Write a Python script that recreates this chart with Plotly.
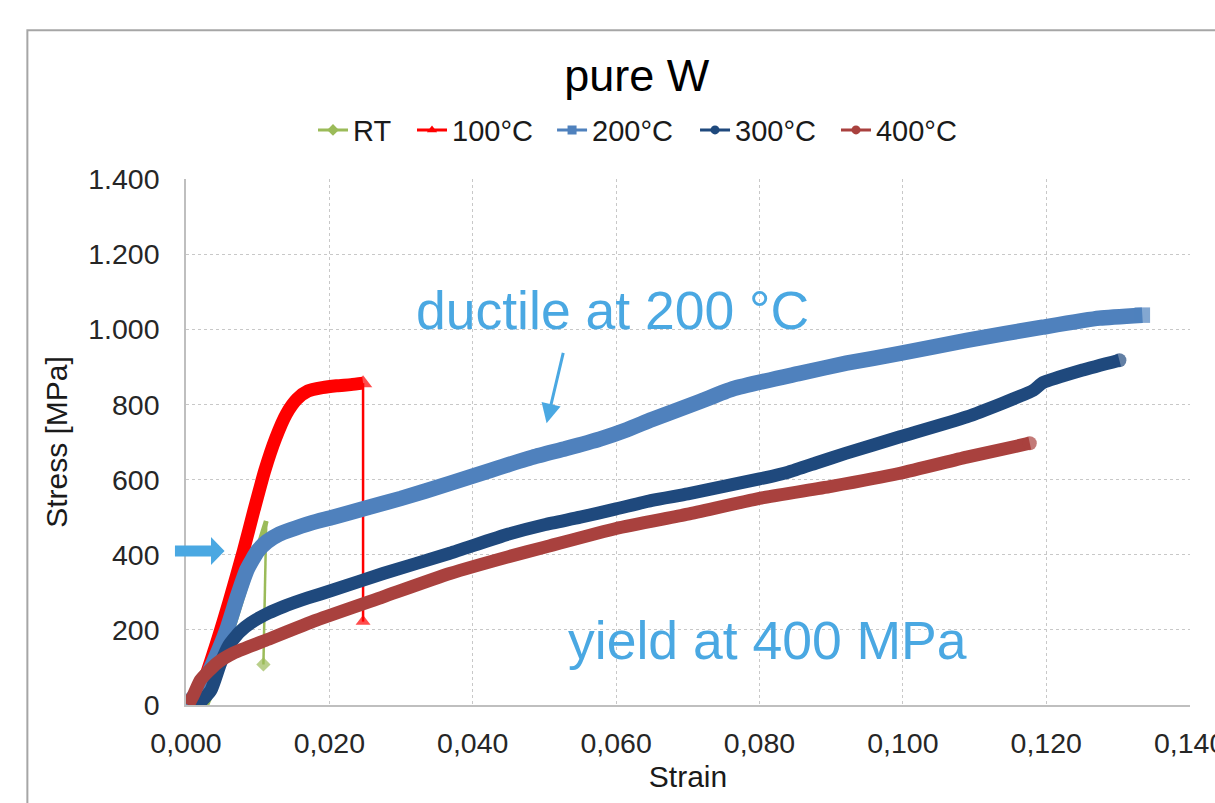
import plotly.graph_objects as go

# ---------------- data ----------------
series_names = ["RT", "100°C", "200°C", "300°C", "400°C"]

strain_rt = [0.0000, 0.0015, 0.0030, 0.0040, 0.0055, 0.0070, 0.0085, 0.0100, 0.0112]
stress_rt = [0, 0, 5, 50, 140, 235, 330, 420, 490]
strain_rt_drop = [0.0112, 0.0108]
stress_rt_drop = [490, 108]

strain_100 = [0.0005, 0.0020, 0.0040, 0.0060, 0.0080, 0.0095, 0.0110, 0.0125, 0.0140,
              0.0155, 0.0170, 0.0190, 0.0210, 0.0230, 0.0247]
stress_100 = [0, 40, 150, 275, 410, 520, 625, 710, 775, 815, 836, 845, 850, 853, 857]
strain_100_drop = [0.0247, 0.0247]
stress_100_drop = [857, 222]

strain_200 = [0.0000, 0.0020, 0.0040, 0.0057, 0.0072, 0.0085, 0.0100, 0.0113, 0.0130,
              0.0145, 0.0175, 0.0205, 0.0250, 0.0300, 0.0368, 0.0425, 0.0484, 0.0530,
              0.0577, 0.0615, 0.0650, 0.0717, 0.0763, 0.0856, 0.0921, 0.0996, 0.1089,
              0.1195, 0.1274, 0.1334]
stress_200 = [0, 40, 120, 200, 290, 360, 410, 435, 455, 466, 485, 500, 524, 550, 590, 625,
              660, 683, 708, 733, 760, 808, 842, 883, 910, 936, 971, 1006, 1030, 1038]

strain_300 = [0.0003, 0.0020, 0.0035, 0.0048, 0.0060, 0.0075, 0.0090, 0.0115, 0.0136,
              0.0170, 0.0205, 0.0275, 0.0368, 0.0450, 0.0500, 0.0550, 0.0600, 0.0650,
              0.0700, 0.0750, 0.0800, 0.0840, 0.0880, 0.0920, 0.0996, 0.1089, 0.1182,
              0.1195, 0.1251, 0.1302]
stress_300 = [0, 8, 40, 110, 160, 195, 218, 245, 262, 285, 306, 350, 404, 455, 480, 500,
              522, 545, 562, 582, 602, 620, 645, 670, 714, 767, 838, 858, 892, 918]

strain_400 = [0.0003, 0.0010, 0.0020, 0.0043, 0.0066, 0.0112, 0.0182, 0.0275, 0.0368,
              0.0450, 0.0500, 0.0600, 0.0700, 0.0800, 0.0900, 0.0996, 0.1089, 0.1177]
stress_400 = [0, 25, 66, 111, 138, 173, 226, 288, 350, 395, 420, 470, 508, 550, 582, 617,
              660, 697]

x_ticks = [0.0, 0.02, 0.04, 0.06, 0.08, 0.10, 0.12, 0.14]
y_ticks = [0, 200, 400, 600, 800, 1000, 1200, 1400]

# ---------------- style ----------------
FONT = "Liberation Sans, Arial, Helvetica, sans-serif"
c_rt, c_100, c_200, c_300, c_400 = "#9BBB59", "#FF0000", "#4F81BD", "#1F497D", "#A9413E"
c_anno = "#4AA8E2"

fig = go.Figure()

# RT
fig.add_trace(go.Scatter(x=strain_rt, y=stress_rt, mode="lines",
                         line=dict(color=c_rt, width=5), showlegend=False))
fig.add_trace(go.Scatter(x=strain_rt_drop, y=stress_rt_drop, mode="lines+markers",
                         line=dict(color=c_rt, width=2.5),
                         marker=dict(symbol="diamond", size=[0, 11], color=c_rt,
                                     line=dict(width=0)),
                         showlegend=False))
# 100 °C
fig.add_trace(go.Scatter(x=strain_100, y=stress_100, mode="lines", line_shape="spline",
                         line=dict(color=c_100, width=13, smoothing=0.6), showlegend=False))
fig.add_trace(go.Scatter(x=strain_100_drop, y=stress_100_drop, mode="lines+markers",
                         line=dict(color=c_100, width=2.5),
                         marker=dict(symbol="triangle-up", size=[16, 13], color=c_100,
                                     line=dict(width=0)),
                         showlegend=False))
# 200 °C
n200 = len(strain_200)
fig.add_trace(go.Scatter(x=strain_200, y=stress_200, mode="lines+markers", line_shape="spline",
                         line=dict(color=c_200, width=15.5, smoothing=0.5),
                         marker=dict(symbol="square", color=c_200, line=dict(width=0),
                                     size=[0] * (n200 - 1) + [15.5]),
                         showlegend=False))
# 300 °C
n300 = len(strain_300)
fig.add_trace(go.Scatter(x=strain_300, y=stress_300, mode="lines+markers", line_shape="spline",
                         line=dict(color=c_300, width=13, smoothing=0.5),
                         marker=dict(symbol="circle", color=c_300, line=dict(width=0),
                                     size=[0] * (n300 - 1) + [14]),
                         showlegend=False))
# 400 °C
n400 = len(strain_400)
fig.add_trace(go.Scatter(x=strain_400, y=stress_400, mode="lines+markers", line_shape="spline",
                         line=dict(color=c_400, width=13, smoothing=0.5),
                         marker=dict(symbol="circle", color=c_400, line=dict(width=0),
                                     size=[0] * (n400 - 1) + [14]),
                         showlegend=False))

# legend entries (one small legend per entry, to reproduce the spacing)
legend_symbols = ["diamond", "triangle-up", "square", "circle", "circle"]
legend_colors = [c_rt, c_100, c_200, c_300, c_400]
legend_ids = ["legend", "legend2", "legend3", "legend4", "legend5"]
for name, sym, col, lid in zip(series_names, legend_symbols, legend_colors, legend_ids):
    fig.add_trace(go.Scatter(x=[None], y=[None], mode="lines+markers", name=name,
                             legend=lid,
                             line=dict(color=col, width=3),
                             marker=dict(symbol=sym, size=9, color=col, line=dict(width=0))))

legend_x = [0.1265, 0.2251, 0.3646, 0.5070, 0.6474]
legend_layout = {}
for lid, lx in zip(legend_ids, legend_x):
    legend_layout[lid] = dict(orientation="h", x=lx, xanchor="left", y=1.093,
                              yanchor="middle", borderwidth=0,
                              font=dict(family=FONT, size=29, color="#1a1a1a"),
                              bgcolor="rgba(0,0,0,0)", itemwidth=30)

# ---------------- layout ----------------
grid = dict(showgrid=True, gridcolor="#C8C8C8", griddash="dot", gridwidth=1,
            zeroline=False, showline=True, linecolor="#BFBFBF", linewidth=1.5,
            tickfont=dict(family=FONT, size=28.5, color="#262626"),
            ticks="", ticklabeloverflow="allow", automargin=False)

fig.update_layout(
    width=1215, height=803,
    paper_bgcolor="white", plot_bgcolor="white",
    margin=dict(l=186, r=25, t=179, b=98, autoexpand=False),
    separators=",.",
    font=dict(family=FONT, color="#000000"),
    title=dict(text="pure W", x=0.449, xref="paper", xanchor="center",
               y=1 - 75 / 803, yanchor="middle",
               font=dict(family=FONT, size=45, color="#000000")),
    xaxis=dict(range=[0, 0.14005], tickvals=x_ticks, tickformat=".3f",
               ticklabelstandoff=12,
               title=dict(text="Strain", font=dict(family=FONT, size=30, color="#1a1a1a"),
                          standoff=8),
               **grid),
    yaxis=dict(range=[0, 1400.5], tickvals=y_ticks, tickformat=",d",
               ticklabelstandoff=19,
               title=dict(text="Stress [MPa]", font=dict(family=FONT, size=30, color="#1a1a1a"),
                          standoff=12),
               **grid),
    showlegend=True,
    **legend_layout,
)

# outer chart border
fig.add_shape(type="rect", xref="paper", yref="paper",
              x0=-0.158, x1=1.2, y0=-0.5, y1=1.283,
              line=dict(color="#A6A6A6", width=2), fillcolor="rgba(0,0,0,0)", layer="below")

# block arrow pointing at the 400 MPa yield
fig.add_shape(type="path", xref="paper", yref="paper",
              path="M -0.011 0.3032 L 0.0249 0.3032 L 0.0249 0.3194 L 0.0384 0.2928 "
                   "L 0.0249 0.2662 L 0.0249 0.2823 L -0.011 0.2823 Z",
              fillcolor=c_anno, line=dict(width=0), layer="above")

# annotations
fig.add_annotation(x=0.0595, y=1051, xref="x", yref="y", text="ductile at 200 °C",
                   showarrow=False, xanchor="center", yanchor="middle",
                   font=dict(family=FONT, size=53.5, color=c_anno))
fig.add_annotation(x=0.0811, y=172, xref="x", yref="y", text="yield at 400 MPa",
                   showarrow=False, xanchor="center", yanchor="middle",
                   font=dict(family=FONT, size=53.5, color=c_anno))
fig.add_annotation(x=0.0503, y=750, xref="x", yref="y", text="", showarrow=True,
                   ax=17, ay=-72, axref="pixel", ayref="pixel",
                   arrowhead=2, arrowsize=1.3, arrowwidth=3, arrowcolor=c_anno)

fig.write_html("out.html", config={"displayModeBar": False},
               post_script="document.body.style.margin='0';")
